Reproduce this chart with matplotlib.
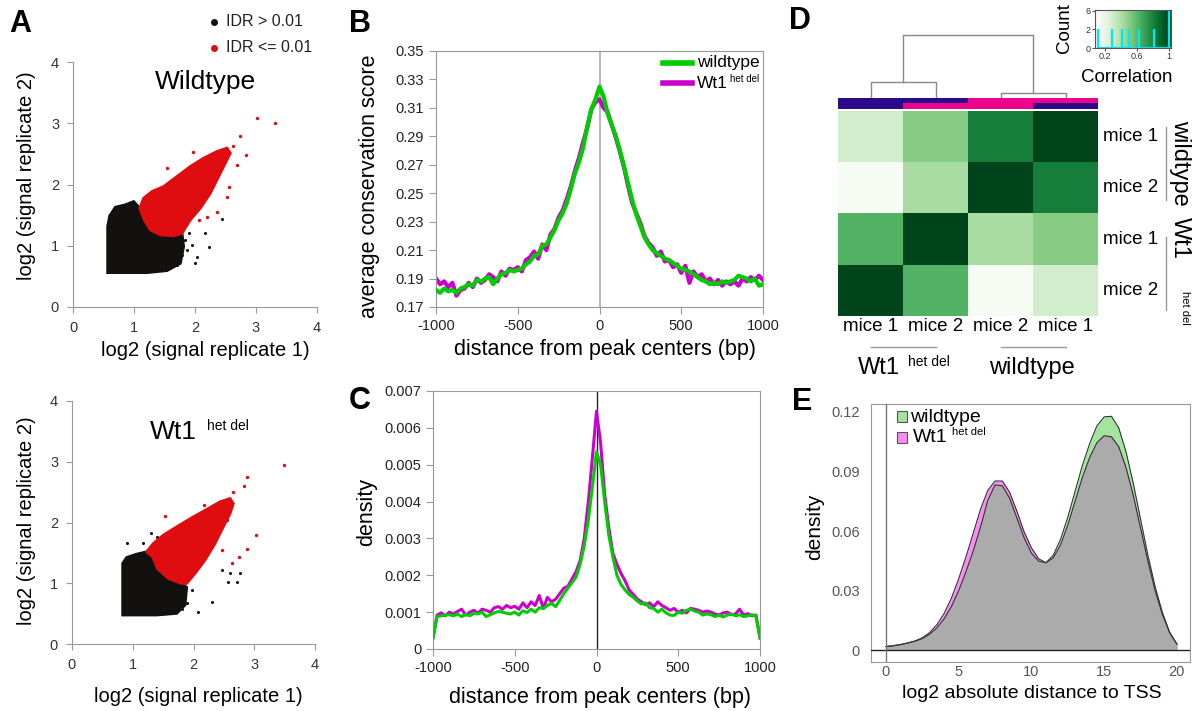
import numpy as np
import matplotlib
matplotlib.use("Agg")
import matplotlib.pyplot as plt
from matplotlib.lines import Line2D
from matplotlib.patches import Rectangle
from matplotlib.colors import ListedColormap

plt.rcParams['font.family'] = ['Liberation Sans', 'DejaVu Sans']
plt.rcParams['axes.unicode_minus'] = False

# ---------------- DATA ----------------
# Panel A (wildtype): dense point clouds as boundary outlines + individual outliers
wt_black_x = [0.568, 0.568, 0.601, 0.694, 0.858, 0.995, 1.093, 1.169, 1.268, 1.432, 1.650, 1.787, 1.814, 1.760, 1.541, 1.213]
wt_black_y = [0.561, 1.313, 1.488, 1.629, 1.668, 1.722, 1.613, 1.422, 1.259, 1.177, 1.161, 1.204, 0.986, 0.714, 0.594, 0.561]
wt_red_x = [1.093, 1.158, 1.295, 1.486, 1.705, 1.923, 2.142, 2.361, 2.525, 2.579, 2.497, 2.388, 2.251, 2.087, 1.923, 1.787, 1.650, 1.432, 1.268, 1.169]
wt_red_y = [1.613, 1.777, 1.886, 1.967, 2.131, 2.294, 2.431, 2.540, 2.594, 2.512, 2.349, 2.131, 1.858, 1.613, 1.422, 1.204, 1.161, 1.177, 1.259, 1.422]
wt_red_out_x = [3.016, 3.317, 2.732, 2.842, 2.689, 2.552, 2.525, 1.962, 1.541, 2.361, 2.197, 2.060, 2.617]
wt_red_out_y = [3.085, 3.003, 2.796, 2.485, 2.311, 1.967, 1.804, 2.529, 2.267, 1.559, 1.477, 1.422, 2.632]
wt_blk_out_x = [2.224, 2.033, 2.005, 2.158, 2.443, 1.896, 1.869, 1.787, 1.705, 1.951, 1.841]
wt_blk_out_y = [0.986, 0.823, 0.714, 1.204, 1.439, 1.204, 0.932, 0.850, 0.687, 1.014, 1.095]

# Panel A (Wt1 het del)
mu_black_x = [0.834, 0.834, 0.900, 1.064, 1.229, 1.328, 1.405, 1.586, 1.805, 1.888, 1.860, 1.723, 1.394]
mu_black_y = [0.477, 1.326, 1.425, 1.479, 1.518, 1.436, 1.244, 1.079, 0.997, 0.932, 0.641, 0.504, 0.477]
mu_red_x = [1.229, 1.339, 1.503, 1.723, 1.997, 2.244, 2.436, 2.601, 2.656, 2.601, 2.491, 2.354, 2.189, 2.025, 1.888, 1.805, 1.586, 1.405, 1.328]
mu_red_y = [1.518, 1.655, 1.792, 1.929, 2.093, 2.230, 2.340, 2.395, 2.312, 2.148, 1.929, 1.655, 1.381, 1.162, 0.997, 0.997, 1.079, 1.244, 1.436]
mu_red_out_x = [3.490, 2.881, 2.837, 2.875, 3.023, 2.656, 2.173, 1.531, 2.754, 2.628, 2.464, 2.546]
mu_red_out_y = [2.942, 2.751, 2.597, 1.562, 1.792, 2.504, 2.285, 2.104, 1.436, 1.326, 1.545, 2.038]
mu_blk_out_x = [2.464, 2.601, 2.711, 2.766, 2.573, 2.299, 2.080, 0.900, 1.300, 1.970, 1.888, 1.805, 1.174, 1.394]
mu_blk_out_y = [1.216, 1.173, 1.025, 1.173, 1.025, 0.696, 0.532, 1.666, 1.830, 0.888, 0.668, 0.570, 1.655, 1.764]

# Panel B: average conservation score vs distance (bp)
dist = list(range(-1000, 1001, 25))
cons_wt = [0.182, 0.180, 0.183, 0.181, 0.182, 0.180, 0.183, 0.184, 0.186, 0.185, 0.189, 0.188, 0.190, 0.191, 0.186, 0.190,
           0.193, 0.194, 0.196, 0.195, 0.196, 0.197, 0.200, 0.202, 0.206, 0.207, 0.213, 0.214, 0.219, 0.224, 0.231, 0.236,
           0.243, 0.253, 0.264, 0.272, 0.282, 0.297, 0.309, 0.316, 0.325,
           0.318, 0.306, 0.298, 0.290, 0.280, 0.269, 0.257, 0.245, 0.235, 0.227, 0.219, 0.214, 0.210, 0.208, 0.206, 0.204,
           0.203, 0.201, 0.199, 0.197, 0.196, 0.195, 0.193, 0.191, 0.189, 0.188, 0.186, 0.187, 0.186, 0.188, 0.187, 0.188,
           0.189, 0.192, 0.191, 0.190, 0.188, 0.190, 0.185, 0.186]
cons_mut = [0.190, 0.186, 0.188, 0.184, 0.187, 0.178, 0.182, 0.183, 0.187, 0.184, 0.190, 0.187, 0.189, 0.193, 0.191, 0.188,
            0.195, 0.192, 0.197, 0.196, 0.198, 0.195, 0.203, 0.205, 0.209, 0.204, 0.214, 0.210, 0.221, 0.225, 0.233, 0.238,
            0.246, 0.255, 0.266, 0.275, 0.286, 0.296, 0.309, 0.314, 0.316,
            0.310, 0.307, 0.298, 0.289, 0.279, 0.268, 0.255, 0.243, 0.236, 0.229, 0.220, 0.215, 0.212, 0.206, 0.209, 0.202,
            0.203, 0.198, 0.200, 0.194, 0.199, 0.187, 0.195, 0.191, 0.193, 0.188, 0.190, 0.186, 0.189, 0.185, 0.188, 0.186,
            0.188, 0.185, 0.190, 0.188, 0.191, 0.189, 0.192, 0.189]

# Panel C: peak density vs distance (bp)
dens_wt = [0.0003, 0.00088, 0.00090, 0.00092, 0.00093, 0.00090, 0.00095, 0.00088, 0.00094, 0.00090, 0.00097, 0.00095,
           0.00100, 0.00088, 0.00093, 0.00098, 0.00102, 0.00100, 0.00097, 0.00095, 0.00100, 0.00092, 0.00104, 0.00099,
           0.00108, 0.00100, 0.00112, 0.00110, 0.00118, 0.00124, 0.00115, 0.00132, 0.00150, 0.00165, 0.00180, 0.00195,
           0.00230, 0.00280, 0.00350, 0.00440, 0.00535,
           0.00500, 0.00400, 0.00310, 0.00250, 0.00200, 0.00175, 0.00160, 0.00148, 0.00140, 0.00130, 0.00122, 0.00125,
           0.00112, 0.00110, 0.00100, 0.00108, 0.00098, 0.00092, 0.00091, 0.00100, 0.00097, 0.00105, 0.00108, 0.00103,
           0.00100, 0.00092, 0.00095, 0.00093, 0.00088, 0.00092, 0.00087, 0.00092, 0.00095, 0.00090, 0.00093, 0.00088,
           0.00090, 0.00093, 0.00090, 0.0003]
dens_mut = [0.0003, 0.00092, 0.00098, 0.00090, 0.00100, 0.00095, 0.00102, 0.00108, 0.00092, 0.00100, 0.00105, 0.00097,
            0.00108, 0.00105, 0.00100, 0.00112, 0.00115, 0.00108, 0.00118, 0.00112, 0.00116, 0.00108, 0.00125, 0.00112,
            0.00128, 0.00118, 0.00145, 0.00110, 0.00140, 0.00128, 0.00135, 0.00150, 0.00165, 0.00170, 0.00190, 0.00210,
            0.00240, 0.00300, 0.00400, 0.00520, 0.00645,
            0.00560, 0.00420, 0.00330, 0.00260, 0.00230, 0.00205, 0.00185, 0.00160, 0.00148, 0.00135, 0.00128, 0.00120,
            0.00125, 0.00115, 0.00128, 0.00118, 0.00112, 0.00105, 0.00110, 0.00100, 0.00105, 0.00098, 0.00110, 0.00108,
            0.00105, 0.00100, 0.00103, 0.00100, 0.00095, 0.00092, 0.00098, 0.00100, 0.00093, 0.00095, 0.00108, 0.00092,
            0.00096, 0.00090, 0.00092, 0.0003]

# Panel D: correlation heatmap
row_labels = ["mice 1", "mice 2", "mice 1", "mice 2"]
col_labels = ["mice 1", "mice 2", "mice 2", "mice 1"]
corr = [[0.284, 0.503, 0.819, 1.000],
        [0.107, 0.415, 1.000, 0.819],
        [0.621, 1.000, 0.415, 0.503],
        [1.000, 0.621, 0.107, 0.284]]
side_top = [0, 0, 1, 1]
side_bottom = [0, 1, 1, 0]
dendro_root_h = 1.0
dendro_left_h = 0.24
dendro_right_h = 0.065
hist_vals = [0.107, 0.284, 0.415, 0.503, 0.621, 0.819, 1.0]
hist_counts = [2, 2, 2, 2, 2, 2, 4]

# Panel E: density of log2 distance to TSS
tss_x = [i * 0.5 for i in range(41)]
tss_wt = [0.0018, 0.0022, 0.0028, 0.0036, 0.0045, 0.0058, 0.0080, 0.0112, 0.0158, 0.0220, 0.0300, 0.0395, 0.0500,
          0.0620, 0.0755, 0.0832, 0.0828, 0.0765, 0.0665, 0.0565, 0.0488, 0.0448, 0.0440, 0.0478, 0.0558, 0.0670,
          0.0800, 0.0930, 0.1040, 0.1130, 0.1175, 0.1178, 0.1120, 0.1000, 0.0840, 0.0660, 0.0480, 0.0320, 0.0190,
          0.0090, 0.0030]
tss_mut = [0.0018, 0.0022, 0.0028, 0.0036, 0.0046, 0.0062, 0.0088, 0.0128, 0.0185, 0.0262, 0.0360, 0.0470, 0.0590,
           0.0710, 0.0805, 0.0852, 0.0852, 0.0795, 0.0700, 0.0595, 0.0515, 0.0460, 0.0440, 0.0465, 0.0530, 0.0630,
           0.0750, 0.0870, 0.0970, 0.1045, 0.1080, 0.1075, 0.1025, 0.0920, 0.0780, 0.0615, 0.0450, 0.0300, 0.0180,
           0.0088, 0.0030]

# ---------------- FIGURE ----------------
W, H = 1192, 711
fig = plt.figure(figsize=(W / 100, H / 100), dpi=100)


def axpx(x0, y0, x1, y1):
    return fig.add_axes([x0 / W, 1 - y1 / H, (x1 - x0) / W, (y1 - y0) / H])


def tx(x, y, s, **kw):
    kw.setdefault('ha', 'center')
    kw.setdefault('va', 'center')
    return fig.text(x / W, 1 - y / H, s, **kw)


GREEN = '#00cc00'
MAG = '#cc00cc'
GRAY = '#999999'

# ---- Panel A ----
def scatter_panel(box, bx, by, rx, ry, rox, roy, box_, boy):
    ax = axpx(*box)
    ax.fill(bx, by, color='#131110', lw=2.0, ec='#131110', zorder=2)
    ax.fill(rx, ry, color='#e00d10', lw=2.0, ec='#e00d10', zorder=3)
    ax.scatter(box_, boy, s=5, color='#131110', lw=0, zorder=2)
    ax.scatter(rox, roy, s=6, color='#e00d10', lw=0, zorder=3)
    ax.set_xlim(0, 4)
    ax.set_ylim(0, 4)
    ax.set_xticks([0, 1, 2, 3, 4])
    ax.set_yticks([0, 1, 2, 3, 4])
    for s in ['top', 'right']:
        ax.spines[s].set_visible(False)
    for s in ['left', 'bottom']:
        ax.spines[s].set_color(GRAY)
    ax.tick_params(color=GRAY, length=4, labelsize=10.5, labelcolor='#333333', pad=6)
    return ax

scatter_panel((73, 62, 317, 307), wt_black_x, wt_black_y, wt_red_x, wt_red_y,
              wt_red_out_x, wt_red_out_y, wt_blk_out_x, wt_blk_out_y)
scatter_panel((72, 401, 315, 644), mu_black_x, mu_black_y, mu_red_x, mu_red_y,
              mu_red_out_x, mu_red_out_y, mu_blk_out_x, mu_blk_out_y)

tx(20, 24, "A", fontsize=22, fontweight='bold')
fig.add_artist(Line2D([214 / W], [1 - 22 / H], marker='o', ms=4, color='#131110', lw=0))
fig.add_artist(Line2D([214 / W], [1 - 48 / H], marker='o', ms=4, color='#e00d10', lw=0))
tx(226, 22, "IDR > 0.01", fontsize=11.5, ha='left', color='#222222')
tx(226, 48, "IDR <= 0.01", fontsize=11.5, ha='left', color='#222222')
tx(205, 82, "Wildtype", fontsize=19)
tx(173, 432, "Wt1", fontsize=19)
tx(207, 426, "het del", fontsize=10, ha='left')
tx(27, 176, "log2 (signal replicate 2)", fontsize=14.5, rotation=90)
tx(205, 351, "log2 (signal replicate 1)", fontsize=14.5)
tx(27, 521, "log2 (signal replicate 2)", fontsize=14.5, rotation=90)
tx(198, 697, "log2 (signal replicate 1)", fontsize=14.5)

# ---- Panel B ----
axB = axpx(436, 51, 763, 307)
axB.axvline(0, color='#aaaaaa', lw=1.2, zorder=1)
axB.plot(dist, cons_mut, color=MAG, lw=3.0, zorder=2)
axB.plot(dist, cons_wt, color=GREEN, lw=3.0, zorder=3)
axB.set_xlim(-1000, 1000)
axB.set_ylim(0.17, 0.35)
axB.set_xticks([-1000, -500, 0, 500, 1000])
axB.set_yticks([0.17, 0.19, 0.21, 0.23, 0.25, 0.27, 0.29, 0.31, 0.33, 0.35])
axB.set_yticklabels(["0.17", "0.19", "0.21", "0.23", "0.25", "0.27", "0.29", "0.31", "0.33", "0.35"])
for s in axB.spines.values():
    s.set_color(GRAY)
axB.tick_params(color=GRAY, length=5, labelsize=10.5, labelcolor='#222222')
tx(360, 24, "B", fontsize=22, fontweight='bold')
tx(370, 186, "average conservation score", fontsize=15.5, rotation=90)
tx(605, 350, "distance from peak centers (bp)", fontsize=15.5)
fig.add_artist(Line2D([663 / W, 692 / W], [1 - 63 / H] * 2, color=GREEN, lw=4))
fig.add_artist(Line2D([663 / W, 692 / W], [1 - 83 / H] * 2, color=MAG, lw=4))
tx(697, 63, "wildtype", fontsize=12.5, ha='left')
tx(697, 83, "Wt1", fontsize=12.5, ha='left')
tx(730, 79, "het del", fontsize=7, ha='left')

# ---- Panel C ----
axC = axpx(433, 391, 760, 649)
axC.axvline(0, color='#222222', lw=1.0, zorder=1)
axC.plot(dist, dens_mut, color=MAG, lw=2.2, zorder=2)
axC.plot(dist, dens_wt, color=GREEN, lw=2.2, zorder=3)
axC.set_xlim(-1000, 1000)
axC.set_ylim(0, 0.007)
axC.set_xticks([-1000, -500, 0, 500, 1000])
axC.set_yticks([0, 0.001, 0.002, 0.003, 0.004, 0.005, 0.006, 0.007])
axC.set_yticklabels(["0", "0.001", "0.002", "0.003", "0.004", "0.005", "0.006", "0.007"])
for s in axC.spines.values():
    s.set_color(GRAY)
axC.tick_params(color=GRAY, length=5, labelsize=10.5, labelcolor='#222222')
tx(360, 401, "C", fontsize=22, fontweight='bold')
tx(367, 512, "density", fontsize=15.5, rotation=90)
tx(600, 697, "distance from peak centers (bp)", fontsize=15.5)

# ---- Panel D ----
axD = axpx(838, 111, 1098, 316)
axD.imshow(np.array(corr), cmap='Greens', vmin=0.1, vmax=1.0, aspect='auto',
           interpolation='nearest', extent=[0, 4, 4, 0])
axD.set_axis_off()

axS = axpx(838, 98, 1098, 109)
side_cmap = ListedColormap(['#2c0a8c', '#ec058c'])
axS.imshow(np.array([side_top, side_bottom]), cmap=side_cmap, vmin=0, vmax=1, aspect='auto',
           interpolation='nearest', extent=[0, 4, 2, 0])
axS.set_axis_off()

axDen = axpx(838, 30, 1098, 98)
dc = '#888888'
axDen.plot([0.5, 0.5, 1.5, 1.5], [0, dendro_left_h, dendro_left_h, 0], color=dc, lw=1)
axDen.plot([2.5, 2.5, 3.5, 3.5], [0, dendro_right_h, dendro_right_h, 0], color=dc, lw=1)
axDen.plot([1.0, 1.0, 3.0, 3.0], [dendro_left_h, dendro_root_h, dendro_root_h, dendro_right_h], color=dc, lw=1)
axDen.set_xlim(0, 4)
axDen.set_ylim(-0.016, 1.08)
axDen.set_axis_off()

for i, lab in enumerate(row_labels):
    tx(1103, 111 + 51.25 * (i + 0.5), lab, fontsize=13.5, ha='left')
for j, lab in enumerate(col_labels):
    tx(838 + 65 * (j + 0.5), 327, lab, fontsize=13.5)
fig.add_artist(Line2D([1166 / W] * 2, [1 - 127 / H, 1 - 200 / H], color=GRAY, lw=1))
fig.add_artist(Line2D([1166 / W] * 2, [1 - 237 / H, 1 - 310 / H], color=GRAY, lw=1))
fig.add_artist(Line2D([871 / W, 936 / W], [1 - 347 / H] * 2, color=GRAY, lw=1))
fig.add_artist(Line2D([1001 / W, 1066 / W], [1 - 347 / H] * 2, color=GRAY, lw=1))
tx(1180, 163, "wildtype", fontsize=17, rotation=-90)
tx(1180, 238, "Wt1", fontsize=17, rotation=-90)
tx(1185, 308, "het del", fontsize=8, rotation=-90)
tx(879, 368, "Wt1", fontsize=17)
tx(908, 362, "het del", fontsize=10, ha='left')
tx(1032, 368, "wildtype", fontsize=17)
tx(800, 21, "D", fontsize=22, fontweight='bold')

# color key
axK = axpx(1095, 10, 1171, 48)
grad = np.linspace(0.07, 1.03, 256)[None, :]
axK.imshow(grad, cmap='Greens', vmin=0.1, vmax=1.0, aspect='auto', extent=[0.07, 1.03, 0, 4.1])
axK.vlines(hist_vals, 0, hist_counts, color='#00e8f0', lw=1.6)
axK.hlines(0.05, hist_vals[0], 1.03, color='#00e8f0', lw=1.6)
axK.set_xlim(0.07, 1.03)
axK.set_ylim(0, 4.1)
axK.set_xticks([0.2, 0.6, 1.0])
axK.set_xticklabels(["0.2", "0.6", "1"])
axK.set_yticks([0, 2, 4])
axK.set_yticklabels(["0", "2", "6"])
axK.tick_params(labelsize=6.5, length=2, pad=1, color='#555555', labelcolor='#333333')
for s in axK.spines.values():
    s.set_color('#555555')
    s.set_linewidth(0.8)
tx(1065, 28, "Count", fontsize=13.5, rotation=90)
tx(1127, 77, "Correlation", fontsize=13.5)

# ---- Panel E ----
axE = axpx(871, 404, 1190, 662)
tx_arr = np.array(tss_x)
wt_arr = np.array(tss_wt)
mu_arr = np.array(tss_mut)
axE.fill_between(tx_arr, 0, wt_arr, color='#a6e3a1', lw=0, zorder=2)
axE.fill_between(tx_arr, 0, mu_arr, color='#f78ef4', lw=0, zorder=3)
axE.fill_between(tx_arr, 0, np.minimum(wt_arr, mu_arr), color='#ababab', lw=0, zorder=4)
axE.plot(tx_arr, wt_arr, color='#2a3a2a', lw=0.8, zorder=5)
axE.plot(tx_arr, mu_arr, color='#3a2a3a', lw=0.8, zorder=5)
axE.axhline(0, color='#222222', lw=1.0, zorder=6)
axE.axvline(0, color='#777777', lw=1.0, zorder=6)
axE.set_xlim(-1.03, 20.9)
axE.set_ylim(-0.006, 0.124)
axE.set_xticks([0, 5, 10, 15, 20])
axE.set_yticks([0, 0.03, 0.06, 0.09, 0.12])
axE.set_yticklabels(["0", "0.03", "0.06", "0.09", "0.12"])
for s in axE.spines.values():
    s.set_color(GRAY)
axE.tick_params(axis='y', length=0, labelsize=10.5, labelcolor='#555555', pad=8)
axE.tick_params(axis='x', length=0, labelsize=10.5, labelcolor='#555555', pad=2)
tx(802, 402, "E", fontsize=22, fontweight='bold')
tx(815, 527, "density", fontsize=15, rotation=90)
tx(1032, 693, "log2 absolute distance to TSS", fontsize=14)
fig.add_artist(Rectangle((897 / W, 1 - 422 / H), 10 / W, 11 / H, transform=fig.transFigure,
                         fc='#a6e3a1', ec='#555555', lw=0.8))
fig.add_artist(Rectangle((897 / W, 1 - 443 / H), 10 / W, 11 / H, transform=fig.transFigure,
                         fc='#f78ef4', ec='#555555', lw=0.8))
tx(910, 417, "wildtype", fontsize=14, ha='left')
tx(913, 438, "Wt1", fontsize=14, ha='left')
tx(952, 432, "het del", fontsize=8, ha='left')

fig.savefig("out.png", dpi=100)
